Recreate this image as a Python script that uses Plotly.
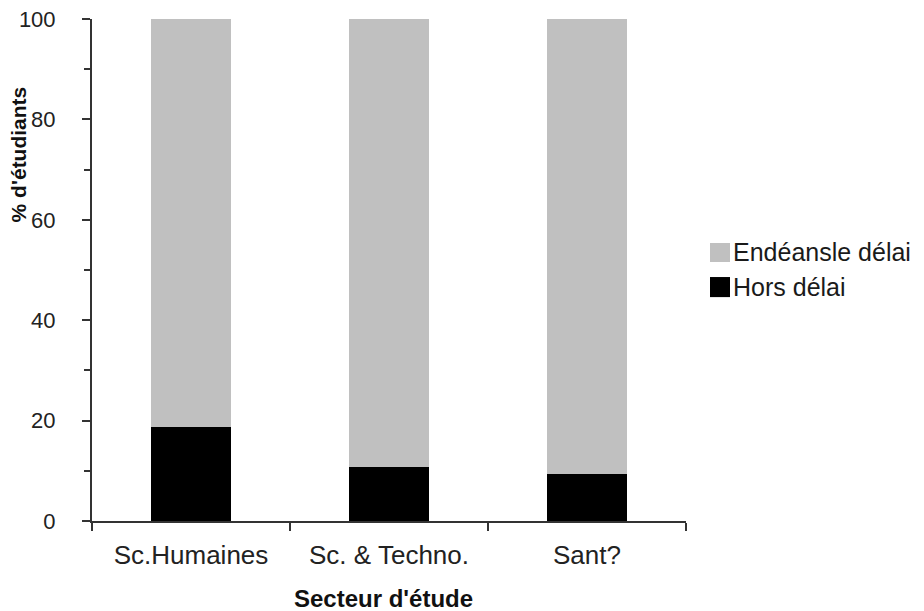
import plotly.graph_objects as go

categories = ["Sc.Humaines", "Sc. & Techno.", "Sant?"]
hors_delai = [18.8, 10.8, 9.4]
endeans_delai = [81.2, 89.2, 90.6]
series_names = ["Endéansle délai", "Hors délai"]
series_colors = ["#c0c0c0", "#000000"]
y_ticks = [0, 20, 40, 60, 80, 100]

FONT = "Liberation Sans, Arial, sans-serif"

fig = go.Figure()
fig.add_trace(go.Bar(x=categories, y=hors_delai, name=series_names[1],
                     marker=dict(color=series_colors[1], line=dict(width=0))))
fig.add_trace(go.Bar(x=categories, y=endeans_delai, name=series_names[0],
                     marker=dict(color=series_colors[0], line=dict(width=0))))

# manual legend (square swatches + labels), placed right of the plot
legend_shapes = []
legend_annots = []
legend_rows = [(0.5538, 0.5159, 0.536), (0.486, 0.446, 0.466)]
for name, color, (y1, y0, yc) in zip(series_names, series_colors, legend_rows):
    legend_shapes.append(dict(type="rect", xref="paper", yref="paper",
                              x0=1.0404, x1=1.0741, y0=y0, y1=y1,
                              fillcolor=color, line=dict(width=0)))
    legend_annots.append(dict(text=name, xref="paper", yref="paper", x=1.0765, y=yc,
                              xanchor="left", yanchor="middle", showarrow=False,
                              font=dict(size=25, color="#1a1a1a")))

fig.update_layout(
    width=924, height=611,
    margin=dict(l=84, r=246, t=11, b=98, autoexpand=False),
    barmode="stack", bargap=0.6,
    paper_bgcolor="white", plot_bgcolor="white",
    font=dict(family=FONT, color="#222222", size=18),
    showlegend=False,
    shapes=legend_shapes,
    annotations=[
        dict(text="<b>% d'étudiants</b>", textangle=-90, xref="paper", yref="paper",
             x=-0.124, y=0.731, xanchor="center", yanchor="middle", showarrow=False,
             font=dict(size=21, color="#111111")),
        dict(text="<b>Secteur d'étude</b>", xref="paper", yref="paper",
             x=0.49, y=-0.155, xanchor="center", yanchor="middle", showarrow=False,
             font=dict(size=24, color="#111111")),
    ] + legend_annots,
)

fig.update_xaxes(
    showline=True, linecolor="#333333", linewidth=2,
    ticks="outside", tickson="boundaries", ticklen=8, tickwidth=1.5, tickcolor="#333333",
    tickfont=dict(size=26, color="#222222"), ticklabelstandoff=10,
    showgrid=False, zeroline=False, automargin=False,
)
fig.update_yaxes(
    range=[0, 100], tickvals=y_ticks,
    showline=True, linecolor="#333333", linewidth=2,
    ticks="outside", ticklen=8, tickwidth=1.5, tickcolor="#333333",
    minor=dict(dtick=10, ticks="outside", ticklen=6, tickwidth=1.5, tickcolor="#333333", showgrid=False),
    tickfont=dict(size=22, color="#222222"), ticklabelstandoff=22,
    ticklabeloverflow="allow",
    showgrid=False, zeroline=False, automargin=False,
)

fig.write_html("out.html")
